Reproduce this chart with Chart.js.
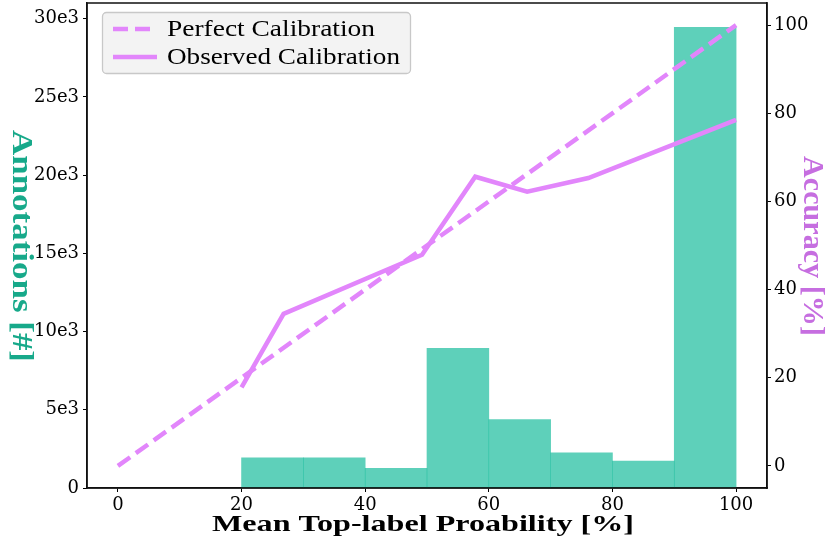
<!DOCTYPE html>
<html><head><meta charset="utf-8">
<script src="https://cdn.jsdelivr.net/npm/chart.js@4/dist/chart.umd.min.js"></script>
<style>html,body{margin:0;padding:0;background:#fff;}#wrap{width:830px;height:548px;}</style>
</head><body><div id="wrap"><canvas id="c" width="830" height="548"></canvas></div>
<script>
// ---- data ----
const binCenters = [25, 35, 45, 55, 65, 75, 85, 95];
const annotationCounts = [1930, 1930, 1250, 8930, 4370, 2250, 1720, 29450];
const perfectX = [0, 100];
const perfectY = [0, 100];
const observedX = [20, 26.8, 49.2, 57.8, 66.2, 76.1, 100];
const observedY = [17.8, 34.5, 47.9, 65.6, 62.2, 65.3, 78.5];
const xTicks = [0, 20, 40, 60, 80, 100];
const countTicks = [0, 5000, 10000, 15000, 20000, 25000, 30000];
const accTicks = [0, 20, 40, 60, 80, 100];
const xTitle = 'Mean Top-label Proability [%]';
const yTitle = 'Annotations [#]';
const y2Title = 'Accuracy [%]';
const legendLabels = ['Perfect Calibration', 'Observed Calibration'];

const SERIF = '"Liberation Serif", "DejaVu Serif", serif';
const TICKSERIF = '"DejaVu Serif", "Liberation Serif", serif';
const LINE_COLOR = '#e286fb';
const tickFont = { family: TICKSERIF, size: 18 };

const zip = (xs, ys) => xs.map((x, i) => ({ x: x, y: ys[i] }));

// draw text centred/left at (x,y), stretched horizontally to a target width
function fitText(ctx, text, x, y, width, align) {
  const w = ctx.measureText(text).width;
  const sx = width / w;
  ctx.save();
  ctx.translate(x, y);
  ctx.scale(sx, 1);
  ctx.textAlign = align;
  ctx.fillText(text, 0, 0);
  ctx.restore();
}

const decor = {
  id: 'decor',
  afterDraw(chart) {
    const ctx = chart.ctx, a = chart.chartArea;
    ctx.save();
    // frame
    ctx.strokeStyle = '#111'; ctx.lineWidth = 1.5;
    ctx.strokeRect(a.left, a.top, a.right - a.left, a.bottom - a.top);
    ctx.textBaseline = 'middle';
    // x title
    ctx.font = 'bold 24px ' + SERIF;
    ctx.fillStyle = '#000';
    fitText(ctx, xTitle, 423, 525, 422, 'center');
    const cy = 246;
    // left title
    ctx.font = 'bold 30px ' + SERIF;
    ctx.save();
    ctx.translate(21, cy); ctx.rotate(Math.PI / 2);
    ctx.fillStyle = '#17a98a';
    fitText(ctx, yTitle, 0, 0, 232, 'center');
    ctx.restore();
    // right title
    ctx.save();
    ctx.translate(812, cy); ctx.rotate(Math.PI / 2);
    ctx.fillStyle = '#c66ee0';
    fitText(ctx, y2Title, 0, 0, 180, 'center');
    ctx.restore();
    // legend
    const bx = 102.5, by = 12.5, bw = 308, bh = 61;
    ctx.beginPath();
    if (ctx.roundRect) ctx.roundRect(bx, by, bw, bh, 4); else ctx.rect(bx, by, bw, bh);
    ctx.fillStyle = 'rgba(242,242,242,0.9)'; ctx.fill();
    ctx.strokeStyle = '#c8c8c8'; ctx.lineWidth = 1.3; ctx.stroke();
    const rows = [29, 57];
    ctx.lineWidth = 4.5; ctx.strokeStyle = LINE_COLOR; ctx.lineCap = 'butt';
    ctx.beginPath(); ctx.setLineDash([15, 7]);
    ctx.moveTo(113, rows[0]); ctx.lineTo(157, rows[0]); ctx.stroke();
    ctx.setLineDash([]);
    ctx.beginPath(); ctx.moveTo(113, rows[1]); ctx.lineTo(157, rows[1]); ctx.stroke();
    ctx.fillStyle = '#000';
    ctx.font = '24px ' + SERIF;
    fitText(ctx, legendLabels[0], 167, rows[0] + 1, 208, 'left');
    fitText(ctx, legendLabels[1], 167, rows[1] + 1, 233, 'left');
    ctx.restore();
  }
};

const noPad = s => { s.paddingTop = 0; s.paddingBottom = 0; s.paddingLeft = 0; s.paddingRight = 0; };

const gridCfg = () => ({ display: true, drawOnChartArea: false, drawTicks: true, tickLength: 4, color: '#000', lineWidth: 1, offset: false });
const borderCfg = () => ({ display: true, color: '#111', width: 1.5 });

new Chart(document.getElementById('c'), {
  type: 'bar',
  data: {
    datasets: [
      {
        type: 'line', label: legendLabels[0], data: zip(perfectX, perfectY), yAxisID: 'y2',
        borderColor: LINE_COLOR, borderWidth: 4.5, borderDash: [15, 7], pointRadius: 0, tension: 0, order: 1
      },
      {
        type: 'line', label: legendLabels[1], data: zip(observedX, observedY), yAxisID: 'y2',
        borderColor: LINE_COLOR, borderWidth: 4.5, pointRadius: 0, tension: 0, order: 2
      },
      {
        type: 'bar', label: 'Annotations', data: zip(binCenters, annotationCounts), yAxisID: 'y',
        backgroundColor: 'rgba(26,188,156,0.7)', borderWidth: 0,
        barPercentage: 1, categoryPercentage: 1, order: 3
      }
    ]
  },
  options: {
    responsive: false, animation: false, devicePixelRatio: 1,
    layout: { padding: { top: 3, left: 0, right: 0, bottom: 0 } },
    plugins: { legend: { display: false }, tooltip: { enabled: false } },
    scales: {
      x: {
        type: 'linear', min: -5, max: 105, offset: false,
        grid: gridCfg(), border: borderCfg(),
        ticks: { font: tickFont, color: '#000', padding: 3, maxRotation: 0 },
        afterBuildTicks: s => { s.ticks = xTicks.map(v => ({ value: v })); },
        afterFit: s => { s.height = 60; noPad(s); }
      },
      y: {
        type: 'linear', position: 'left', min: 0, max: 31000,
        grid: gridCfg(), border: borderCfg(),
        ticks: { font: tickFont, color: '#000', padding: 4, callback: v => v === 0 ? '0' : (v / 1000) + 'e3' },
        afterBuildTicks: s => { s.ticks = countTicks.map(v => ({ value: v })); },
        afterFit: s => { s.width = 87; noPad(s); }
      },
      y2: {
        type: 'linear', position: 'right', min: -5, max: 105,
        grid: gridCfg(), border: borderCfg(),
        ticks: { font: tickFont, color: '#000', padding: 3 },
        afterBuildTicks: s => { s.ticks = accTicks.map(v => ({ value: v })); },
        afterFit: s => { s.width = 63; noPad(s); }
      }
    }
  },
  plugins: [decor]
});
</script>
</body></html>
